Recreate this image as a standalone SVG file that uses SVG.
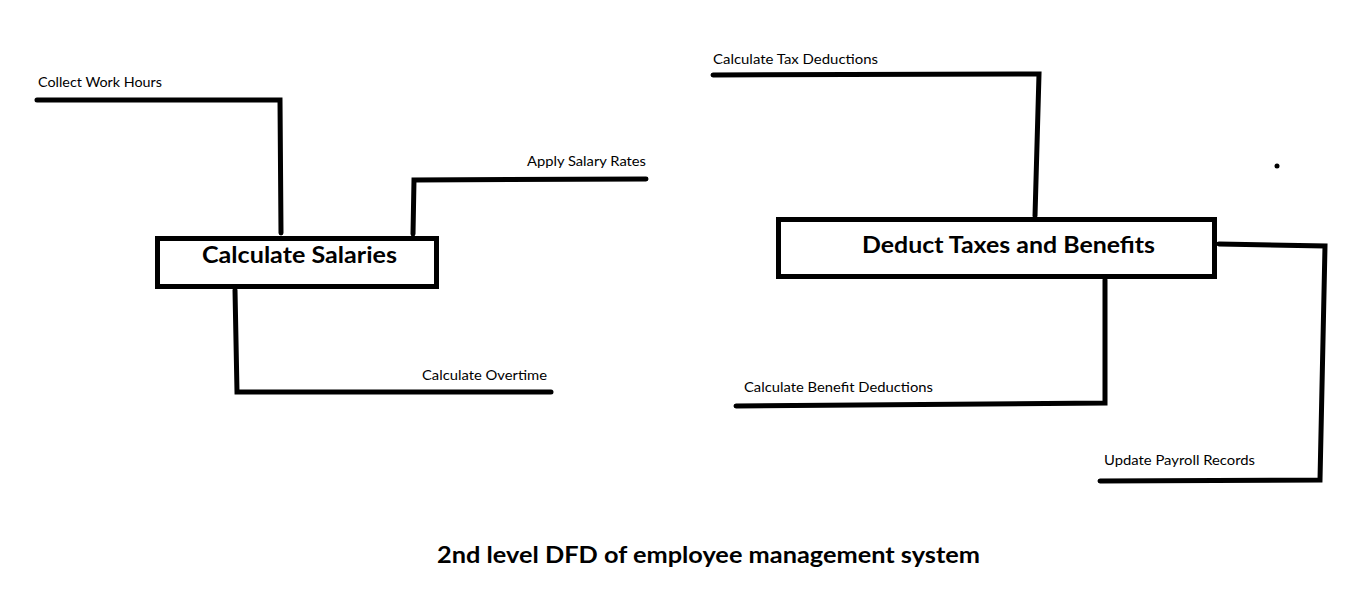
<svg xmlns="http://www.w3.org/2000/svg" width="1360" height="601" viewBox="0 0 1360 601">
<style>
.bg{fill:#fff}
.box{fill:#fff;stroke:#000;stroke-width:5}
.ln{fill:none;stroke:#000;stroke-width:5;stroke-linecap:round;stroke-linejoin:miter}
.lbl{font-family:Lato,"Open Sans","Liberation Sans",sans-serif;font-size:14px;fill:#000}
.title{font-family:Lato,"Open Sans","Liberation Sans",sans-serif;font-weight:bold;fill:#000}
</style>
<rect class="bg" x="0" y="0" width="1360" height="601"/>
<g id="connectors">
<polyline class="ln" points="37,100 280,100 281,233"/>
<polyline class="ln" points="413,234 414,180 646,179"/>
<polyline class="ln" points="235,290 237,392 551,392"/>
<polyline class="ln" points="713,75 1039,74 1035,216"/>
<polyline class="ln" points="1105,280 1105,403 736,406"/>
<polyline class="ln" points="1219,244 1325,246 1320,480 1100,481"/>
</g>
<g id="labels">
<text class="lbl" x="38" y="87" textLength="124" lengthAdjust="spacingAndGlyphs">Collect Work Hours</text>
<text class="lbl" x="527" y="166" textLength="119" lengthAdjust="spacingAndGlyphs">Apply Salary Rates</text>
<text class="lbl" x="422" y="380" textLength="125" lengthAdjust="spacingAndGlyphs">Calculate Overtime</text>
<text class="lbl" x="713" y="64" textLength="165" lengthAdjust="spacingAndGlyphs">Calculate Tax Deductions</text>
<text class="lbl" x="744" y="392" textLength="189" lengthAdjust="spacingAndGlyphs">Calculate Benefit Deductions</text>
<text class="lbl" x="1104" y="465" textLength="151" lengthAdjust="spacingAndGlyphs">Update Payroll Records</text>
</g>
<g id="node-calculate-salaries">
<rect class="box" x="157.5" y="238.5" width="279" height="48"/>
<text class="title" x="202" y="263" font-size="22" textLength="195" lengthAdjust="spacingAndGlyphs">Calculate Salaries</text>
</g>
<g id="node-deduct-taxes">
<rect class="box" x="778.5" y="219.5" width="436" height="57"/>
<text class="title" x="862" y="253" font-size="23" textLength="293" lengthAdjust="spacingAndGlyphs">Deduct Taxes and Benefits</text>
</g>
<circle cx="1277" cy="166" r="2.5" fill="#000"/>
<text class="title" x="437" y="563" font-size="23" textLength="543" lengthAdjust="spacingAndGlyphs">2nd level DFD of employee management system</text>
</svg>
